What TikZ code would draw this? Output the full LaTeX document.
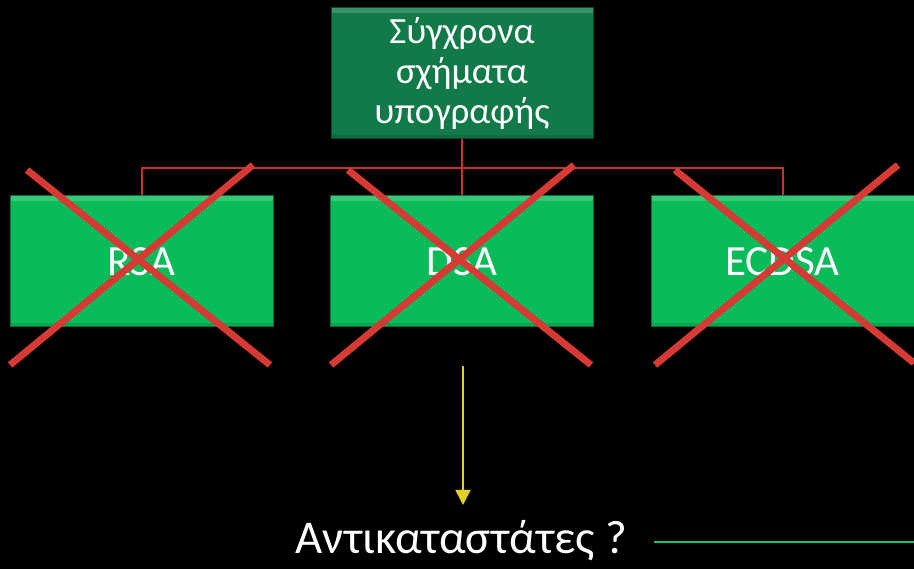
\documentclass[tikz,border=0pt]{standalone}
\usepackage{fontspec}
\setmainfont{Carlito}
\usetikzlibrary{arrows.meta,calc}
\definecolor{topgreen}{RGB}{17,122,72}
\definecolor{boxgreen}{RGB}{10,187,90}
\definecolor{linkred}{RGB}{200,50,45}
\definecolor{xred}{RGB}{214,58,52}
\definecolor{arrowyellow}{RGB}{226,208,40}
\definecolor{linegreen}{RGB}{16,196,112}
\tikzset{
  bevel/.style={path picture={
    \fill[white,opacity=0.18] (path picture bounding box.north west) rectangle ([yshift=-5pt]path picture bounding box.north east);
    \fill[black,opacity=0.12] (path picture bounding box.south west) rectangle ([yshift=4pt]path picture bounding box.south east);}},
  topbox/.style={fill=topgreen, draw=topgreen!60!black, line width=1pt, bevel, minimum width=262pt, minimum height=131pt, inner sep=0pt, text=white, font=\fontsize{37}{40}\selectfont, align=center},
  algbox/.style={fill=boxgreen, draw=boxgreen!60!black, line width=1pt, bevel, minimum width=263pt, minimum height=131pt, inner sep=0pt, text=white, font=\fontsize{43}{48}\selectfont},
  link/.style={draw=linkred, line width=2pt},
  cross/.style={draw=xred, line width=7pt},
  down/.style={draw=arrowyellow, line width=1.8pt, -{Triangle[length=15pt,width=15pt]}},
}
\begin{document}
\begin{tikzpicture}[x=1pt,y=-1pt]
\fill[black] (0,0) rectangle (914,569);
\useasboundingbox (0,0) rectangle (914,569);
\node[topbox] (top) at (462,73.5) {Σύγχρονα\\σχήματα\\υπογραφής};
\node[algbox] (rsa) at (141.5,261.5) {RSA};
\node[algbox] (dsa) at (462,261.5) {DSA};
\node[algbox] (ecdsa) at (782.5,261.5) {ECDSA};
\coordinate (bus) at (462,168);
\draw[link] (top.south) -- (dsa.north);
\draw[link] (rsa.north) |- (bus) -| (ecdsa.north);
% crosses
\draw[cross] (27,170) -- (270,365);
\draw[cross] (253,165) -- (10,365);
\draw[cross] (348,170) -- (591,365);
\draw[cross] (574,165) -- (331,365);
\draw[cross] (675,170) -- (914,363);
\draw[cross] (898,165) -- (655,365);
% arrow and answer
\node[text=white, font=\fontsize{47}{56}\selectfont, anchor=base, inner sep=0pt] (ans) at (461.5,554) {Αντικαταστάτες ?};
\coordinate (astart) at (463,366);
\coordinate (aend) at (463,505);
\draw[down] (astart) -- (aend);
\coordinate (g1) at (654,542);
\coordinate (g2) at (914,542);
\draw[draw=linegreen, line width=2.2pt] (g1) -- (g2);
\end{tikzpicture}
\end{document}
